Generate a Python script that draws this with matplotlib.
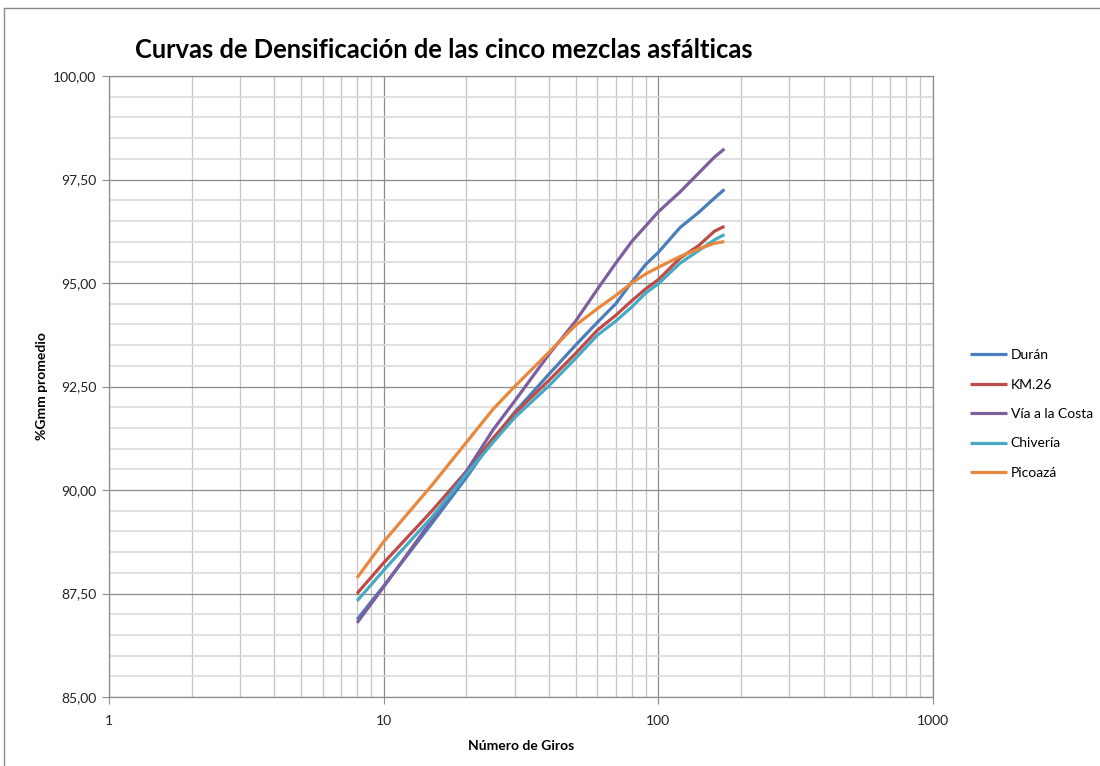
import numpy as np
import matplotlib
matplotlib.use("Agg")
import matplotlib.pyplot as plt
from matplotlib.ticker import FixedLocator, FuncFormatter, MultipleLocator
from matplotlib.lines import Line2D

plt.rcParams["font.family"] = ["Lato", "DejaVu Sans"]

# numero de giros (gyrations)
giros = [8, 10, 15, 20, 25, 30, 40, 50, 60, 70, 80, 90, 100, 120, 140, 160, 174]

# %Gmm promedio per mezcla
duran = [86.87, 87.68, 89.20, 90.30, 91.22, 91.88, 92.80, 93.50, 94.05, 94.50,
         95.02, 95.45, 95.74, 96.34, 96.70, 97.05, 97.26]
km26 = [87.50, 88.24, 89.50, 90.45, 91.25, 91.85, 92.65, 93.30, 93.86, 94.22,
        94.57, 94.86, 95.08, 95.60, 95.90, 96.25, 96.37]
via_costa = [86.79, 87.66, 89.28, 90.45, 91.45, 92.15, 93.28, 94.08, 94.85, 95.48,
             96.00, 96.38, 96.72, 97.20, 97.65, 98.04, 98.24]
chiveria = [87.32, 88.06, 89.35, 90.38, 91.15, 91.75, 92.52, 93.18, 93.74, 94.08,
            94.42, 94.76, 94.98, 95.48, 95.78, 96.04, 96.17]
picoaza = [87.88, 88.75, 90.12, 91.15, 91.95, 92.50, 93.33, 93.98, 94.38, 94.70,
           95.00, 95.22, 95.38, 95.64, 95.82, 95.96, 96.00]

series = [
    ("Durán", duran, "#4a7ebb"),
    ("KM.26", km26, "#be4b48"),
    ("Vía a la Costa", via_costa, "#7d5fa0"),
    ("Chivería", chiveria, "#46aac5"),
    ("Picoazá", picoaza, "#e9883c"),
]

fig = plt.figure(figsize=(11, 7.66), dpi=100)
ax = fig.add_axes([109 / 1100, 1 - 697 / 766, 824 / 1100, 621 / 766])

for name, vals, col in series:
    ax.plot(giros, vals, color=col, lw=2.3, label=name, solid_capstyle="butt")

ax.set_xscale("log")
ax.set_xlim(1, 1000)
ax.set_ylim(85, 100)

ax.xaxis.set_major_locator(FixedLocator([1, 10, 100, 1000]))
ax.xaxis.set_major_formatter(FuncFormatter(lambda v, p: f"{v:g}"))
minor_x = [m * d for d in (1, 10, 100) for m in range(2, 10)]
ax.xaxis.set_minor_locator(FixedLocator(minor_x))
ax.xaxis.set_minor_formatter(FuncFormatter(lambda v, p: ""))

ax.yaxis.set_major_locator(MultipleLocator(2.5))
ax.yaxis.set_minor_locator(MultipleLocator(0.5))
ax.yaxis.set_major_formatter(FuncFormatter(lambda v, p: f"{v:.2f}".replace(".", ",")))

ax.grid(which="major", color="#8c8c8c", lw=0.9)
ax.grid(which="minor", axis="x", color="#c4c4c4", lw=0.9)
ax.grid(which="minor", axis="y", color="#dadada", lw=1.2)
ax.set_axisbelow(True)

for sp in ax.spines.values():
    sp.set_color("#8c8c8c")
    sp.set_linewidth(0.9)

ax.tick_params(which="major", direction="out", length=5, color="#8c8c8c",
               labelsize=10, labelcolor="#222222", pad=4)
ax.tick_params(which="minor", length=0)
ax.tick_params(axis="x", pad=8)

ax.set_xlabel("Número de Giros", fontsize=10, fontweight="bold", labelpad=9)
ax.set_ylabel("%Gmm promedio", fontsize=10, fontweight="bold", labelpad=4)

fig.text(135 / 1100, 1 - 50 / 766, "Curvas de Densificación de las cinco mezclas asfálticas",
         fontsize=18.4, fontweight="bold", ha="left", va="center")

ax.legend(loc="center left", bbox_to_anchor=(958 / 1100, 1 - 414 / 766),
          bbox_transform=fig.transFigure, frameon=False, fontsize=10,
          handlelength=2.6, handletextpad=0.3, labelspacing=1.25)

# outer chart frame (left and top edges visible)
fig.add_artist(Line2D([4 / 1100, 4 / 1100], [0, 1 - 8 / 766], transform=fig.transFigure,
                      color="#8c8c8c", lw=1))
fig.add_artist(Line2D([4 / 1100, 1], [1 - 8 / 766, 1 - 8 / 766], transform=fig.transFigure,
                      color="#8c8c8c", lw=1))

fig.savefig("out.png", dpi=100)
